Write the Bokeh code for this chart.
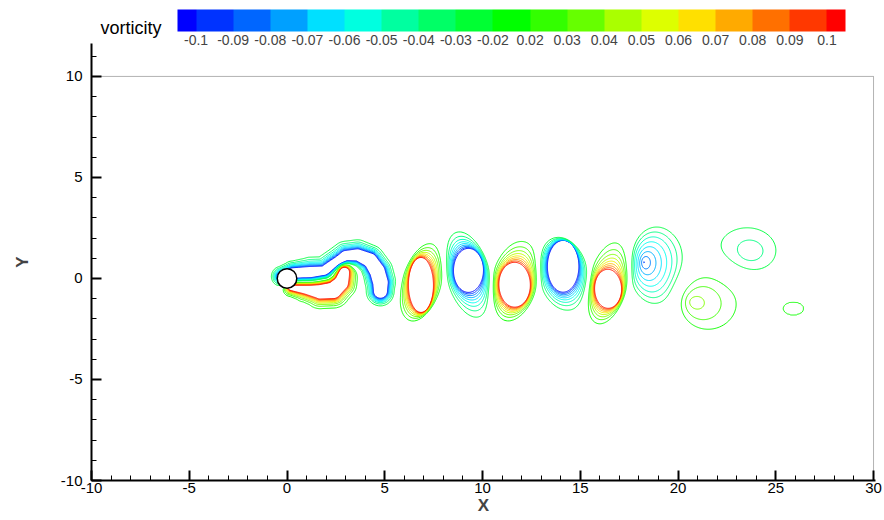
import numpy as np
from bokeh.plotting import figure
from bokeh.models import (ColorBar, LinearColorMapper, FixedTicker,
                          BoxAnnotation, Range1d)
from bokeh.embed import file_html
from bokeh.resources import INLINE

# ---------------- values ----------------
LEVELS = [-0.1, -0.09, -0.08, -0.07, -0.06, -0.05, -0.04, -0.03, -0.02,
          0.02, 0.03, 0.04, 0.05, 0.06, 0.07, 0.08, 0.09, 0.1]
LEVEL_LABELS = ["-0.1", "-0.09", "-0.08", "-0.07", "-0.06", "-0.05", "-0.04",
                "-0.03", "-0.02", "0.02", "0.03", "0.04", "0.05", "0.06",
                "0.07", "0.08", "0.09", "0.1"]
# colour blocks of the legend (below -0.1, between levels, above 0.1)
BAND_COLORS = ["#0000FF", "#0033FF", "#0066FF", "#00A0FF", "#00E0FF", "#00FFE0",
               "#00FFA0", "#00FF66", "#00FF33", "#00FF00", "#33FF00", "#66FF00",
               "#AAFF00", "#DDFF00", "#FFE000", "#FFAA00", "#FF7000", "#FF3800",
               "#FF0000"]
# colour of the contour line drawn at each level
LINE_COLORS = ["#0010FF", "#0040FF", "#0080FF", "#00B0FF", "#00E0FF", "#00FFF0",
               "#00FFC0", "#00FF80", "#00FF40", "#10FF00", "#40FF00", "#80FF00",
               "#C0FF00", "#F0F000", "#FFC000", "#FF9000", "#FF5000", "#FF1800"]

# shed vortices: core centre, core value, core radii (|w| = 0.1),
# outer contour (|w| = 0.02) centre, radii and tilt (deg)
V_CX = [6.85, 9.28, 11.64, 14.12, 16.42, 18.25, 20.72, 23.71, 25.91]
V_CY = [-0.32, 0.40, -0.31, 0.60, -0.51, 0.81, -1.17, 1.30, -1.49]
V_PEAK = [0.1, -0.1, 0.1, -0.1, 0.1, -0.092, 0.053, -0.042, 0.022]
V_AI = [0.64, 0.77, 0.81, 0.81, 0.70, 0.0, 0.0, 0.0, 0.0]
V_BI = [1.36, 1.09, 1.11, 1.28, 0.97, 0.0, 0.0, 0.0, 0.0]
V_OX = [6.90, 9.26, 11.64, 14.12, 16.42, 18.89, 21.49, 23.54, 25.91]
V_OY = [-0.18, 0.19, -0.14, 0.23, -0.22, 0.64, -1.05, 1.34, -1.49]
V_AO = [1.0, 1.12, 1.18, 1.27, 1.02, 1.41, 1.62, 1.53, 0.51]
V_BO = [2.0, 2.2, 2.03, 1.84, 2.10, 1.90, 1.53, 1.20, 0.32]
V_TILT = [-18, 17, -16, 15, -16, 0, 0, 0, 0]

# near-wake shear layers (path, core half-width, outer half-width)
UPPER_X = [-0.3, 0.3, 1.2, 1.9, 2.4, 3.0, 3.6, 4.25, 4.62, 4.78, 4.78]
UPPER_Y = [0.1, 0.25, 0.28, 0.35, 0.7, 1.08, 1.15, 0.9, 0.35, -0.2, -0.62]
UPPER_C = [0.2, 0.28, 0.32, 0.28, 0.3, 0.32, 0.32, 0.36, 0.4, 0.4, 0.36]
UPPER_W = [0.5, 0.62, 0.78, 0.74, 0.74, 0.77, 0.77, 0.76, 0.8, 0.8, 0.74]
UPPER_PEAK = -0.1
LOWER_X = [0.2, 0.9, 1.7, 2.35, 2.75, 2.9]
LOWER_Y = [-0.45, -0.52, -0.62, -0.55, -0.2, 0.35]
LOWER_C = [0.15, 0.25, 0.4, 0.45, 0.4, 0.35]
LOWER_W = [0.45, 0.65, 0.88, 0.92, 0.85, 0.8]
LOWER_PEAK = 0.1

CYL_X = [0.0]
CYL_Y = [0.0]
CYL_R = [0.5]

X_MAJOR = [-10, -5, 0, 5, 10, 15, 20, 25, 30]
X_MINOR = list(range(-10, 31))
Y_MAJOR = [-10, -5, 0, 5, 10]
Y_MINOR = list(range(-10, 12))
TICK_TEXT = {-10: "-10", -5: "-5"}
X_LIM = (-10, 30)
Y_LIM = (-10, 10)
Y_AXIS_TOP = 11.63

# ---------------- field built from the read parameters ----------------
GX = np.arange(-2.0, 28.5, 0.05)
GY = np.arange(-4.0, 4.01, 0.05)
XX, YY = np.meshgrid(GX, GY)


def profile(t, peak):
    a = abs(peak)
    s = np.sign(peak)
    if a >= 0.1:
        inner = 0.1 * 5.0 ** (-np.maximum(t, -4))
    else:
        inner = a + (0.02 - a) * np.clip(t, 0, 1)
    outer = 0.02 * 5.0 ** (-(t - 1) * 1.5)
    return s * np.where(t <= 1, inner, outer)


def vortex(cx, cy, peak, ai, bi, ox, oy, ao, bo, tilt):
    dx, dy = XX - cx, YY - cy
    r = np.hypot(dx, dy) + 1e-9
    ux, uy = dx / r, dy / r
    if ai > 0:
        ri = ai * bi / np.sqrt((bi * ux) ** 2 + (ai * uy) ** 2)
    else:
        ri = np.zeros_like(r)
    th = np.radians(tilt)
    cs, sn = np.cos(th), np.sin(th)
    px = (cx - ox) * cs + (cy - oy) * sn
    py = -(cx - ox) * sn + (cy - oy) * cs
    vx = ux * cs + uy * sn
    vy = -ux * sn + uy * cs
    p, q = px / ao, py / bo
    m, n = vx / ao, vy / bo
    a = m * m + n * n
    b = p * m + q * n
    c = p * p + q * q - 1.0
    ro = (-b + np.sqrt(np.maximum(b * b - a * c, 0))) / a
    ro = np.maximum(ro, ri + 0.08)
    return profile((r - ri) / (ro - ri), peak)


def ridge(px, py, pc, pw, peak):
    tmin = np.full(XX.shape, np.inf)
    for i in range(len(px) - 1):
        x0, y0, x1, y1 = px[i], py[i], px[i + 1], py[i + 1]
        sx, sy = x1 - x0, y1 - y0
        tau = np.clip(((XX - x0) * sx + (YY - y0) * sy) / (sx * sx + sy * sy), 0, 1)
        d = np.hypot(XX - (x0 + tau * sx), YY - (y0 + tau * sy))
        cc = pc[i] + tau * (pc[i + 1] - pc[i])
        ww = pw[i] + tau * (pw[i + 1] - pw[i])
        tmin = np.minimum(tmin, (d - cc) / (ww - cc))
    return profile(tmin, peak)


W = np.zeros_like(XX)
for k in range(len(V_CX)):
    W += vortex(V_CX[k], V_CY[k], V_PEAK[k], V_AI[k], V_BI[k],
                V_OX[k], V_OY[k], V_AO[k], V_BO[k], V_TILT[k])
W += ridge(UPPER_X, UPPER_Y, UPPER_C, UPPER_W, UPPER_PEAK)
W += ridge(LOWER_X, LOWER_Y, LOWER_C, LOWER_W, LOWER_PEAK)

# ---------------- figure ----------------
FONT = "Liberation Sans"
p = figure(width=884, height=520, output_backend="svg", toolbar_location=None,
           x_range=Range1d(X_LIM[0], X_LIM[1] + 0.1),
           y_range=Range1d(Y_LIM[0], Y_AXIS_TOP),
           min_border_left=91, min_border_right=9, min_border_top=43,
           min_border_bottom=40)
p.outline_line_color = None
p.xgrid.grid_line_color = None
p.ygrid.grid_line_color = None
p.background_fill_color = "white"
p.border_fill_color = "white"

# legend title, left of the colour bar
p.title.text = "vorticity"
p.title.align = "left"
p.title.offset = 9
p.title.standoff = 12
p.title.text_font = FONT
p.title.text_font_size = "18px"
p.title.text_font_style = "normal"
p.title.text_color = "black"

for ax, major, minor in ((p.xaxis, X_MAJOR, X_MINOR), (p.yaxis, Y_MAJOR, Y_MINOR)):
    ax.ticker = FixedTicker(ticks=major, minor_ticks=minor)
    ax.major_label_overrides = TICK_TEXT
    ax.axis_line_width = 2
    ax.axis_line_color = "black"
    ax.major_tick_in = 10
    ax.major_tick_out = 0
    ax.minor_tick_in = 5
    ax.minor_tick_out = 0
    ax.major_tick_line_width = 2
    ax.minor_tick_line_width = 1
    ax.major_label_text_font = FONT
    ax.major_label_text_font_size = "15px"
    ax.major_label_text_color = "black"
    ax.axis_label_text_font = FONT
    ax.axis_label_text_font_style = "bold"
    ax.axis_label_text_font_size = "17px"

p.xaxis.major_label_standoff = 2
p.xaxis.axis_label = "X"
p.xaxis.axis_label_standoff = 0
p.yaxis.major_label_standoff = 9
p.yaxis.axis_label = "Y"
p.yaxis.axis_label_standoff = 26

p.add_layout(BoxAnnotation(left=X_LIM[0], right=X_LIM[1], bottom=Y_LIM[0], top=Y_LIM[1],
                           fill_alpha=0, line_color="black", line_width=1))

p.contour(x=GX, y=GY, z=W, levels=LEVELS, line_color=LINE_COLORS, line_width=1)

p.circle(x=CYL_X, y=CYL_Y, radius=CYL_R, fill_color="white",
         line_color="black", line_width=1.5)

# legend (colour bar): blocks between levels, half blocks at the ends
palette = [BAND_COLORS[0]]
for col in BAND_COLORS[1:-1]:
    palette += [col, col]
palette.append(BAND_COLORS[-1])
mapper = LinearColorMapper(palette=palette, low=0, high=len(LEVELS))
tick_pos = [i + 0.5 for i in range(len(LEVELS))]
cb = ColorBar(color_mapper=mapper, orientation="horizontal", width=668, height=22,
              location=(86, 433), padding=0, title=None,
              ticker=FixedTicker(ticks=tick_pos),
              major_label_overrides={tp: lab for tp, lab in zip(tick_pos, LEVEL_LABELS)},
              major_label_text_font=FONT, major_label_text_font_size="14px",
              major_tick_line_color=None, minor_tick_line_color=None,
              bar_line_color=None, border_line_color=None,
              background_fill_color=None, background_fill_alpha=0,
              label_standoff=3)
p.add_layout(cb, "center")

open("out.html", "w").write(file_html(p, INLINE))
